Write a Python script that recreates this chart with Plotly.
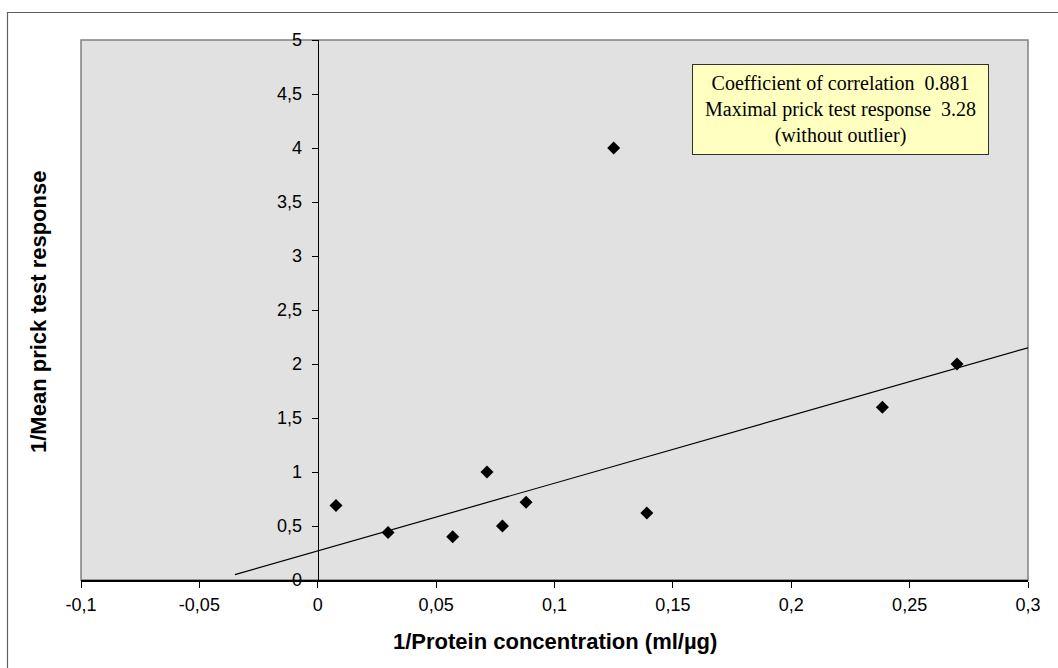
import plotly.graph_objects as go

# Data
x_vals = [0.0077, 0.0297, 0.057, 0.0715, 0.078, 0.088, 0.125, 0.139, 0.2385, 0.270]
y_vals = [0.69, 0.44, 0.40, 1.00, 0.50, 0.72, 4.00, 0.62, 1.60, 2.00]

trend_x = [-0.035, 0.30]
trend_y = [0.05, 2.15]

x_tickvals = [-0.1, -0.05, 0, 0.05, 0.1, 0.15, 0.2, 0.25, 0.3]
x_ticktext = ["-0,1", "-0,05", "0", "0,05", "0,1", "0,15", "0,2", "0,25", "0,3"]
y_tickvals = [0, 0.5, 1, 1.5, 2, 2.5, 3, 3.5, 4, 4.5, 5]
y_ticktext = ["0", "0,5", "1", "1,5", "2", "2,5", "3", "3,5", "4", "4,5", "5"]

info_lines = ["Coefficient of correlation\u00a0 0.881",
              "Maximal prick test response\u00a0 3.28",
              "(without outlier)"]

W, H = 1058, 668
L, R, T, B = 81, 30, 40, 88
pw, ph = W - L - R, H - T - B

def px_to_paper_x(px):
    return (px - L) / pw

def px_to_paper_y(py):
    return (H - B - py) / ph

fig = go.Figure()
fig.add_trace(go.Scatter(x=trend_x, y=trend_y, mode="lines",
                         line=dict(color="black", width=1.2),
                         hoverinfo="skip", showlegend=False))
fig.add_trace(go.Scatter(x=x_vals, y=y_vals, mode="markers",
                         marker=dict(symbol="diamond", size=10, color="black"),
                         showlegend=False))

tickfont = dict(family="Liberation Sans, Arial", size=18, color="black")

fig.update_layout(
    width=W, height=H, autosize=False,
    margin=dict(l=L, r=R, t=T, b=B),
    paper_bgcolor="white",
    plot_bgcolor="#E1E1E1",
    showlegend=False,
    xaxis=dict(range=[-0.1, 0.3], tickvals=x_tickvals, ticktext=x_ticktext,
               showgrid=False, zeroline=False, showline=True, linecolor="black",
               linewidth=1.5, ticks="outside", ticklen=6, tickcolor="black",
               tickfont=tickfont, ticklabelstandoff=2, fixedrange=True),
    yaxis=dict(range=[0, 5], tickvals=y_tickvals, ticktext=y_ticktext,
               showgrid=False, zeroline=False, showline=True, linecolor="black",
               linewidth=1.2, ticks="outside", ticklen=6, tickcolor="black",
               tickfont=tickfont, ticklabelstandoff=6,
               anchor="free", position=0.25, fixedrange=True),
)

# plot area border (gray)
fig.add_shape(type="rect", xref="paper", yref="paper", x0=0, y0=0, x1=1, y1=1,
              line=dict(color="#808080", width=1.5), layer="below")
# outer chart border
fig.add_shape(type="rect", xref="paper", yref="paper",
              x0=px_to_paper_x(7.5), y0=px_to_paper_y(700),
              x1=px_to_paper_x(1100), y1=px_to_paper_y(12.5),
              line=dict(color="#606060", width=1.2), layer="below")

# axis titles
fig.add_annotation(text="<b>1/Protein concentration (ml/µg)</b>", xref="paper", yref="paper",
                   x=px_to_paper_x(555), y=px_to_paper_y(641), xanchor="center", yanchor="middle",
                   showarrow=False, font=dict(family="Liberation Sans, Arial", size=22, color="black"))
fig.add_annotation(text="<b>1/Mean prick test response</b>", xref="paper", yref="paper",
                   x=px_to_paper_x(38), y=px_to_paper_y(312), xanchor="center", yanchor="middle",
                   textangle=-90, showarrow=False,
                   font=dict(family="Liberation Sans, Arial", size=22, color="black"))

# info box
fig.add_annotation(text="<br>".join(info_lines), xref="paper", yref="paper",
                   x=px_to_paper_x(840.5), y=px_to_paper_y(109.5), xanchor="center", yanchor="middle",
                   showarrow=False, align="center", width=293, height=87,
                   bgcolor="#FFFFC0", bordercolor="#303030", borderwidth=1, borderpad=1,
                   font=dict(family="Liberation Serif, Times New Roman", size=20, color="black"))

fig.write_html("out.html")
